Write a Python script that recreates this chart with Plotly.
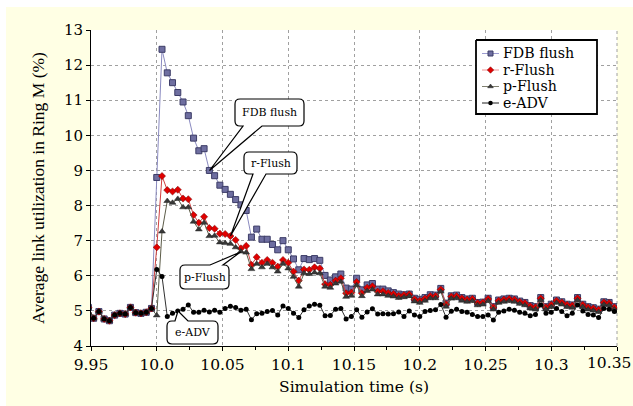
import plotly.graph_objects as go

# ---------------- data ----------------
time_s = [9.948, 9.952, 9.956, 9.960, 9.964, 9.968, 9.972, 9.976, 9.980, 9.984, 9.988, 9.992, 9.996,
          10.000, 10.004, 10.008, 10.012, 10.016, 10.020, 10.024, 10.028, 10.032, 10.036,
          10.040, 10.044, 10.048, 10.052, 10.056, 10.060, 10.064, 10.068, 10.072, 10.076,
          10.080, 10.084, 10.088, 10.092, 10.096, 10.100, 10.104, 10.108, 10.112, 10.116,
          10.120, 10.124, 10.128, 10.132, 10.136, 10.140, 10.144, 10.148, 10.152, 10.156,
          10.160, 10.164, 10.168, 10.172, 10.176, 10.180, 10.184, 10.188, 10.192, 10.196,
          10.200, 10.204, 10.208, 10.212, 10.216, 10.220, 10.224, 10.228, 10.232, 10.236,
          10.240, 10.244, 10.248, 10.252, 10.256, 10.260, 10.264, 10.268, 10.272, 10.276,
          10.280, 10.284, 10.288, 10.292, 10.296, 10.300, 10.304, 10.308, 10.312, 10.316,
          10.320, 10.324, 10.328, 10.332, 10.336, 10.340, 10.344, 10.348, 10.352]

fdb_flush = [5.10, 4.79, 4.98, 4.77, 4.72, 4.88, 4.93, 4.91, 5.10, 4.95, 4.93, 4.96, 5.07,
             8.80, 12.45, 11.78, 11.50, 11.22, 10.95, 10.56, 9.92, 9.56, 9.62,
             9.00, 8.85, 8.58, 8.46, 8.32, 8.17, 8.02, 7.86, 7.10, 7.33,
             7.04, 7.04, 6.89, 6.74, 7.00, 6.74, 6.48, 6.17, 6.49, 6.46,
             6.49, 6.44, 6.01, 5.88, 5.97, 6.05, 5.65, 5.62, 5.93, 5.60,
             5.74, 5.78, 5.62, 5.62, 5.57, 5.52, 5.48, 5.46, 5.48, 5.36,
             5.33, 5.38, 5.46, 5.45, 5.64, 5.22, 5.43, 5.45, 5.38, 5.34,
             5.36, 5.24, 5.25, 5.36, 5.12, 5.31, 5.34, 5.36, 5.34, 5.28,
             5.24, 5.15, 5.12, 5.38, 5.12, 5.19, 5.31, 5.26, 5.19, 5.17,
             5.38, 5.19, 5.12, 5.09, 5.05, 5.26, 5.24, 5.12, 5.07]

r_flush = [5.10, 4.79, 4.98, 4.77, 4.72, 4.88, 4.93, 4.91, 5.10, 4.95, 4.93, 4.96, 5.07,
           6.81, 8.84, 8.44, 8.40, 8.45, 8.20, 8.18, 7.73, 7.51, 7.68,
           7.36, 7.34, 7.20, 7.19, 7.13, 7.02, 6.78, 6.85, 6.31, 6.53,
           6.37, 6.45, 6.37, 6.26, 6.45, 6.37, 6.12, 5.86, 6.18, 6.17,
           6.24, 6.21, 5.76, 5.74, 5.86, 5.93, 5.50, 5.52, 5.82, 5.50,
           5.66, 5.70, 5.55, 5.56, 5.51, 5.48, 5.43, 5.45, 5.47, 5.33,
           5.29, 5.35, 5.42, 5.42, 5.61, 5.19, 5.41, 5.42, 5.36, 5.32,
           5.34, 5.22, 5.24, 5.34, 5.10, 5.29, 5.32, 5.34, 5.32, 5.26,
           5.22, 5.13, 5.10, 5.36, 5.10, 5.17, 5.29, 5.24, 5.17, 5.15,
           5.36, 5.17, 5.10, 5.07, 5.03, 5.24, 5.22, 5.10, 5.05]

p_flush = [5.10, 4.79, 4.98, 4.77, 4.72, 4.88, 4.93, 4.91, 5.10, 4.95, 4.93, 4.96, 5.07,
           4.87, 7.26, 8.13, 8.08, 8.19, 7.95, 7.95, 7.54, 7.32, 7.51,
           7.13, 7.14, 6.95, 6.93, 6.91, 6.81, 6.69, 6.66, 6.19, 6.34,
           6.24, 6.34, 6.24, 6.12, 6.34, 6.21, 5.97, 5.69, 6.07, 6.05,
           6.09, 6.07, 5.69, 5.66, 5.78, 5.83, 5.40, 5.43, 5.73, 5.42,
           5.57, 5.61, 5.47, 5.47, 5.43, 5.41, 5.37, 5.39, 5.42, 5.27,
           5.23, 5.29, 5.36, 5.36, 5.55, 5.12, 5.35, 5.36, 5.29, 5.26,
           5.28, 5.16, 5.18, 5.28, 5.04, 5.23, 5.26, 5.28, 5.26, 5.20,
           5.16, 5.07, 5.04, 5.30, 5.04, 5.11, 5.23, 5.18, 5.11, 5.09,
           5.30, 5.11, 5.04, 5.01, 4.97, 5.18, 5.16, 5.04, 4.99]

e_adv = [5.10, 4.79, 4.98, 4.77, 4.72, 4.88, 4.93, 4.91, 5.10, 4.95, 4.93, 4.96, 5.07,
         6.18, 5.98, 4.84, 4.93, 5.00, 5.05, 5.17, 4.96, 4.96, 5.02,
         4.97, 5.02, 4.96, 5.07, 5.13, 5.10, 5.02, 5.05, 4.75, 4.92,
         4.93, 4.98, 5.01, 4.88, 5.14, 5.07, 4.93, 4.81, 5.03, 5.14,
         5.19, 5.16, 4.86, 4.87, 5.05, 5.07, 4.77, 4.84, 5.03, 4.82,
         4.97, 5.06, 4.91, 4.92, 4.91, 4.92, 4.97, 4.84, 5.00, 4.88,
         4.84, 4.98, 5.01, 5.03, 5.18, 4.82, 4.99, 5.05, 4.98, 4.96,
         4.90, 4.84, 4.84, 4.88, 4.74, 4.96, 5.00, 5.05, 5.02, 4.96,
         4.93, 4.86, 4.90, 5.17, 4.93, 4.96, 5.07, 4.98, 4.86, 4.93,
         5.17, 5.00, 4.90, 4.88, 4.81, 5.07, 5.05, 4.98, 4.98]

x_tickvals = [9.95, 10.0, 10.05, 10.1, 10.15, 10.2, 10.25, 10.3, 10.35]
x_ticktext = ["9.95", "10.0", "10.05", "10.1", "10.15", "10.2", "10.25", "10.3", "10.35"]
y_tickvals = [4, 5, 6, 7, 8, 9, 10, 11, 12, 13]

series_names = ["FDB flush", "r-Flush", "p-Flush", "e-ADV"]

# ---------------- layout geometry (pixels) ----------------
W, H = 633, 406
ML, MR, MT, MB = 91, 16, 30, 60
PW, PH = W - ML - MR, H - MT - MB
FONT_H = "DejaVu Serif"        # horizontal texts (reference is horizontally stretched Times)
FONT_V = "Liberation Serif"    # rotated axis title


def px(X):
    return (X - ML) / PW


def py(Y):
    return (H - MB - Y) / PH


def bubble_path(x0, y0, x1, y1, b1, b2, tip, side, r=5):
    """Rounded callout box with a wedge pointer, pixel coords -> paper path."""
    P = lambda X, Y: f"{px(X):.5f},{py(Y):.5f}"
    d = f"M{P(x0 + r, y0)} "
    if side == "top":
        d += f"L{P(b1, y0)} L{P(*tip)} L{P(b2, y0)} "
    d += f"L{P(x1 - r, y0)} Q{P(x1, y0)} {P(x1, y0 + r)} "
    d += f"L{P(x1, y1 - r)} Q{P(x1, y1)} {P(x1 - r, y1)} "
    if side == "bottom":
        d += f"L{P(b2, y1)} L{P(*tip)} L{P(b1, y1)} "
    d += f"L{P(x0 + r, y1)} Q{P(x0, y1)} {P(x0, y1 - r)} "
    d += f"L{P(x0, y0 + r)} Q{P(x0, y0)} {P(x0 + r, y0)} Z"
    return d


fig = go.Figure()

markers = [
    dict(symbol="square", size=6, color="#6e6ea0", line=dict(color="#3c3c66", width=1)),
    dict(symbol="diamond", size=5.5, color="#e00000", line=dict(color="#700000", width=0.5)),
    dict(symbol="triangle-up", size=6, color="#383838", line=dict(color="#202020", width=0.5)),
    dict(symbol="circle", size=5, color="#000000"),
]
line_cols = ["#8a8ac0", "#d04040", "#5c5c48", "#303030"]
legend_line_cols = ["#9c9cd0", "#f09090", "#808070", "#202020"]

for name, vals, mk, lc in zip(series_names, [fdb_flush, r_flush, p_flush, e_adv], markers, line_cols):
    fig.add_trace(go.Scatter(x=time_s, y=vals, name=name, mode="lines+markers",
                             line=dict(color=lc, width=1), marker=mk, showlegend=False))

# ---------------- legend, drawn on an overlay pixel-scale axis pair ----------------
LEG_BOX = (476, 40, 597, 114)
LEG_ROWS = [53.5, 70, 86.5, 103]
lx0, ly0, lx1, ly1 = LEG_BOX
fig.add_trace(go.Scatter(x=[lx0, lx1, lx1, lx0, lx0], y=[ly0, ly0, ly1, ly1, ly0],
                         xaxis="x2", yaxis="y2", mode="lines", fill="toself",
                         fillcolor="white", line=dict(color="black", width=1.8),
                         showlegend=False, hoverinfo="skip"))
annotations = []
for name, mk, lc, ry in zip(series_names, markers, legend_line_cols, LEG_ROWS):
    small = dict(mk)
    small["size"] = 5 if mk["symbol"] != "circle" else 4.5
    fig.add_trace(go.Scatter(x=[lx0 + 6, lx0 + 23], y=[ry, ry], xaxis="x2", yaxis="y2",
                             mode="lines", line=dict(color=lc, width=1),
                             showlegend=False, hoverinfo="skip"))
    fig.add_trace(go.Scatter(x=[lx0 + 14.5], y=[ry], xaxis="x2", yaxis="y2",
                             mode="markers", marker=small, showlegend=False, hoverinfo="skip"))
    annotations.append(dict(text=name, xref="paper", yref="paper", x=px(lx0 + 26), y=py(ry),
                            xanchor="left", yanchor="middle", showarrow=False, borderpad=0,
                            font=dict(family=FONT_H, size=14.2, color="black")))

# last x tick label is placed flush with the right edge (as in the reference)
tick_labels_shown = x_ticktext[:-1] + [""]
annotations.append(dict(text=x_ticktext[-1], xref="paper", yref="paper", x=px(W - 1.5), y=py(H - MB + 7),
                        xanchor="right", yanchor="top", showarrow=False, borderpad=0,
                        font=dict(family=FONT_H, size=15.5, color="black")))

shapes = [
    dict(type="rect", xref="paper", yref="paper", x0=px(6), x1=px(W + 5), y0=py(7), y1=py(H + 5),
         fillcolor="#FFFFE4", line=dict(width=0), layer="below"),
    dict(type="rect", xref="paper", yref="paper", x0=0, x1=1, y0=0, y1=1,
         fillcolor="white", line=dict(width=0), layer="below"),
    # dotted grid line along the right edge (x = 10.35)
    dict(type="line", xref="paper", yref="paper", x0=1, x1=1, y0=0, y1=1,
         line=dict(color="#a0a0a0", width=1, dash="dot"), layer="below"),
]

bubbles = [
    ("FDB flush", (235, 99, 304, 126), (243, 262), (209.5, 170.5), "bottom"),
    ("r-Flush", (244, 152, 297, 174), (253, 266), (230.5, 236), "bottom"),
    ("p-Flush", (180, 265, 229, 289), (210, 223), (240.5, 252), "top"),
    ("e-ADV", (167, 321, 218, 344), (175, 188), (178, 311), "top"),
]
for text, (x0, y0, x1, y1), (b1, b2), tip, side in bubbles:
    shapes.append(dict(type="path", xref="paper", yref="paper",
                       path=bubble_path(x0, y0, x1, y1, b1, b2, tip, side),
                       fillcolor="white", line=dict(color="black", width=1.2), layer="above"))
    annotations.append(dict(text=text, xref="paper", yref="paper",
                            x=px((x0 + x1) / 2), y=py((y0 + y1) / 2),
                            showarrow=False, font=dict(family=FONT_H, size=11, color="black"),
                            xanchor="center", yanchor="middle"))

fig.update_layout(
    width=W, height=H,
    margin=dict(l=ML, r=MR, t=MT, b=MB, pad=0, autoexpand=False),
    paper_bgcolor="white", plot_bgcolor="white",
    font=dict(family=FONT_H, size=15.5, color="black"),
    shapes=shapes, annotations=annotations,
    showlegend=False,
    xaxis=dict(range=[9.95, 10.35], tickvals=x_tickvals, ticktext=tick_labels_shown,
               automargin=False,
               showgrid=True, gridcolor="#a0a0a0", griddash="dot", gridwidth=1,
               showline=True, linecolor="black", linewidth=1,
               ticks="outside", ticklen=4, tickcolor="black",
               minor=dict(dtick=0.025, ticks="outside", ticklen=3, tickcolor="black", showgrid=False),
               zeroline=False,
               title=dict(text="Simulation time (s)", font=dict(family=FONT_H, size=15.5), standoff=8),
               tickfont=dict(family=FONT_H, size=15.5)),
    yaxis=dict(range=[4, 13], tickvals=y_tickvals,
               automargin=False,
               showgrid=True, gridcolor="#a0a0a0", griddash="dot", gridwidth=1,
               showline=True, linecolor="black", linewidth=1,
               ticks="outside", ticklen=4, tickcolor="black",
               zeroline=False,
               title=dict(text="Average link utilization in Ring M (%)",
                          font=dict(family=FONT_V, size=17.5), standoff=14),
               tickfont=dict(family=FONT_H, size=15)),
    xaxis2=dict(overlaying="x", anchor="y2", range=[ML, W - MR], visible=False, fixedrange=True),
    yaxis2=dict(overlaying="y", anchor="x2", range=[H - MB, MT], visible=False, fixedrange=True),
)

fig.write_html("out.html")
